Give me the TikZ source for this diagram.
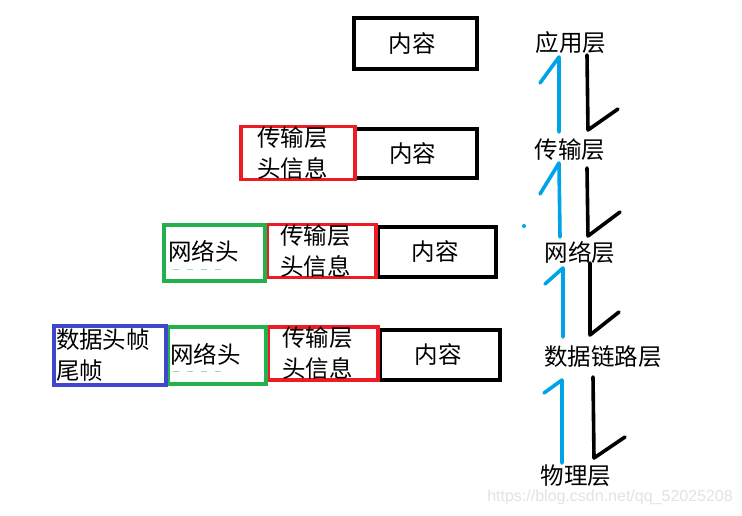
\documentclass[tikz,border=0pt]{standalone}
\usepackage{fontspec}
\newfontfamily\cjk{Noto Sans CJK SC}
\newfontfamily\wmfont{Liberation Sans}
\definecolor{pblue}{RGB}{0,162,232}
\definecolor{pred}{RGB}{237,28,36}
\definecolor{pgreen}{RGB}{34,177,76}
\definecolor{pindigo}{RGB}{63,72,204}
\begin{document}
\begin{tikzpicture}[x=1pt,y=-1pt,
  every node/.style={font=\cjk\fontsize{23.5}{31}\selectfont, inner sep=0pt},
  box/.style={draw, line width=3.6pt, rectangle, align=left},
  blackbox/.style={box, draw=black},
  redbox/.style={box, draw=pred},
  greenbox/.style={box, draw=pgreen},
  bluebox/.style={box, draw=pindigo},
  layer/.style={anchor=center},
  up/.style={draw=pblue, line width=3.6pt, line cap=round, line join=round},
  down/.style={draw=black, line width=3.6pt, line cap=round, line join=round},
  remnant/.style={pgreen!45, line width=1pt, dash pattern=on 6pt off 8pt},
  wm/.style={font=\wmfont\fontsize{16}{18}\selectfont, text=black!11}]
\useasboundingbox (0,0) rectangle (742,516);
\fill[white] (0,0) rectangle (742,516);

% row 1
\node[blackbox, minimum width=123pt, minimum height=51pt] (c1) at (415.5,43.5) {\hspace*{-7pt}内容};

% row 2
\node[blackbox, minimum width=122pt, minimum height=49pt] (c2) at (416,153.5) {\hspace*{-7pt}内容};
\node[redbox, minimum width=114pt, minimum height=52pt, text width=82pt, inner xsep=16pt] (t2) at (298,153) {\raisebox{-2pt}{传输层}\\\raisebox{-2pt}{头信息}};

% row 3
\node[blackbox, minimum width=118pt, minimum height=50pt] (c3) at (437,252) {\hspace*{-4pt}内容};
\node[redbox, minimum width=109pt, minimum height=52pt, text width=83pt, inner xsep=13pt] (t3) at (321.5,251) {传输层\\头信息};
\node[greenbox, minimum width=101pt, minimum height=56pt, text width=93pt, inner xsep=4pt] (n3) at (214.5,253) {\raisebox{5pt}{网络头}};

% row 4
\node[blackbox, minimum width=120pt, minimum height=50pt] (c4) at (440,355) {\hspace*{-4pt}内容};
\node[redbox, minimum width=110pt, minimum height=53pt, text width=82pt, inner xsep=14pt] (t4) at (323,353.5) {\fontsize{23.5}{33}\selectfont\raisebox{-2pt}{传输层}\\\raisebox{-2pt}{头信息}};
\node[greenbox, minimum width=98pt, minimum height=57pt, text width=94pt, inner xsep=2pt] (n4) at (217,355.5) {\raisebox{3.5pt}{网络头}};
\node[bluebox, minimum width=112pt, minimum height=59pt, text width=108pt, inner xsep=2pt] (d4) at (110,355.5) {\fontsize{23.5}{33}\selectfont 数据头帧\\尾帧};

% faint remnants under the network headers
\draw[remnant] (173,269) -- (225,269);
\draw[remnant] (173,371) -- (228,371);

% layer labels
\node[layer] (l1) at (571,42.5) {应用层};
\node[layer] (l2) at (570,150) {传输层};
\node[layer] (l3) at (580,253) {网络层};
\node[layer] (l4) at (603,357) {数据链路层};
\node[layer] (l5) at (576,476) {物理层};

% hand drawn up / down strokes
\draw[up] (540,83) -- (559,57) -- (559,132);
\draw[down] (587,55) -- (588,130) -- (618,109);

\draw[up] (540,194) -- (559,163) -- (560,237);
\draw[down] (587,168) -- (588,236) -- (620,212);

\draw[up] (545,284) -- (563,268) -- (563,337);
\draw[down] (590,263) -- (590,335) -- (619,312);

\draw[up] (544,393) -- (562,380) -- (562,463);
\draw[down] (593,377) -- (594,458) -- (625,437);

\fill[pblue] (524,226) circle (2pt);

\node[wm, anchor=east] (wmark) at (733,497) {https://blog.csdn.net/qq\_52025208};
\end{tikzpicture}
\end{document}
